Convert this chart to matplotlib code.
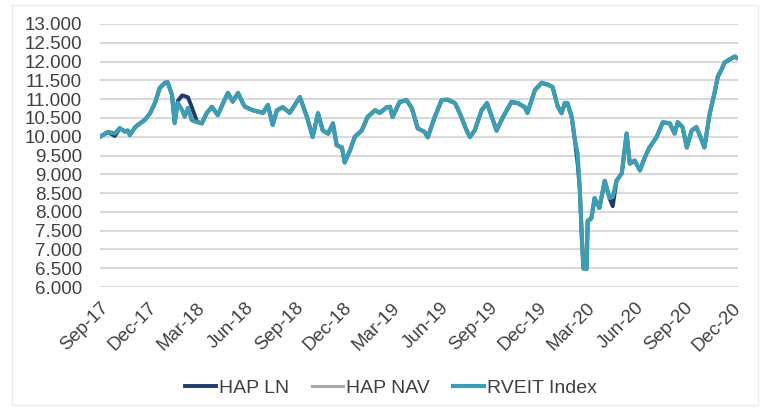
import numpy as np
import pandas as pd
import matplotlib
matplotlib.use("Agg")
import matplotlib.pyplot as plt
import matplotlib.dates as mdates
from matplotlib.ticker import FuncFormatter, MultipleLocator
from matplotlib.patches import Rectangle

plt.rcParams['font.family'] = ['Liberation Sans', 'DejaVu Sans']

# values
dates = ["2017-09-01", "2017-09-16", "2017-09-29", "2017-10-08", "2017-10-18", "2017-10-23", "2017-10-27",
         "2017-11-06", "2017-11-15", "2017-11-24", "2017-12-04", "2017-12-13", "2017-12-22",
         "2018-01-01", "2018-01-06", "2018-01-14", "2018-01-19", "2018-01-25", "2018-02-02", "2018-02-07",
         "2018-02-13", "2018-02-20", "2018-03-02", "2018-03-11", "2018-03-20", "2018-03-30", "2018-04-10",
         "2018-04-20", "2018-04-29", "2018-05-08", "2018-05-18", "2018-05-27", "2018-05-31", "2018-06-15",
         "2018-07-04", "2018-07-13", "2018-07-22", "2018-07-30", "2018-08-10", "2018-08-23", "2018-09-11",
         "2018-09-24", "2018-10-05", "2018-10-15", "2018-10-24", "2018-11-03", "2018-11-12", "2018-11-19",
         "2018-11-29", "2018-12-04", "2018-12-14", "2018-12-23",
         "2019-01-05", "2019-01-16", "2019-01-30", "2019-02-08", "2019-02-21", "2019-02-27", "2019-03-04",
         "2019-03-17", "2019-03-30", "2019-04-09", "2019-04-20", "2019-05-03", "2019-05-09", "2019-05-22",
         "2019-06-04", "2019-06-15", "2019-06-29", "2019-07-08", "2019-07-21", "2019-07-27", "2019-08-05",
         "2019-08-18", "2019-08-28", "2019-09-06", "2019-09-15", "2019-09-27", "2019-10-13", "2019-10-25",
         "2019-11-07", "2019-11-12", "2019-11-26", "2019-12-09", "2019-12-20", "2019-12-29",
         "2020-01-08", "2020-01-15", "2020-01-21", "2020-01-26", "2020-02-03", "2020-02-09", "2020-02-14",
         "2020-02-18", "2020-02-22", "2020-02-25", "2020-03-02", "2020-03-04", "2020-03-11", "2020-03-17",
         "2020-03-26", "2020-04-05", "2020-04-14", "2020-04-20", "2020-04-27", "2020-05-07", "2020-05-16",
         "2020-05-22", "2020-05-31", "2020-06-10", "2020-06-19", "2020-06-28", "2020-07-11", "2020-07-23",
         "2020-08-05", "2020-08-14", "2020-08-20", "2020-08-29", "2020-09-06", "2020-09-15", "2020-09-24",
         "2020-10-04", "2020-10-09", "2020-10-19", "2020-10-28", "2020-11-03", "2020-11-10", "2020-11-16",
         "2020-11-25", "2020-12-05", "2020-12-08"]

rveit = [10000, 10130, 10090, 10230, 10130, 10170, 10040, 10260, 10360, 10440, 10630, 10900, 11300,
         11440, 11440, 11120, 10360, 10900, 10710, 10530, 10770, 10440, 10390, 10360, 10630, 10790,
         10580, 10900, 11170, 10930, 11170, 10900, 10790, 10710, 10630, 10850, 10310, 10710, 10790,
         10630, 11060, 10530, 9990, 10630, 10170, 10090, 10360, 9770, 9720, 9310, 9640, 9990,
         10170, 10530, 10710, 10630, 10790, 10790, 10530, 10930, 10980, 10770, 10230, 10120, 9990,
         10530, 10980, 10980, 10900, 10630, 10170, 9990, 10170, 10710, 10900, 10530, 10170, 10530,
         10930, 10900, 10790, 10630, 11250, 11440, 11380, 11330,
         10790, 10630, 10900, 10900, 10530, 9910, 9560, 8650, 7300, 6490, 6490, 7760, 7840, 8370,
         8110, 8830, 8370, 8400, 8830, 9020, 10090, 9290, 9370, 9100, 9450, 9720, 9990, 10390,
         10360, 10090, 10390, 10260, 9720, 10170, 10260, 9910, 9720, 10630, 11170, 11600, 11790,
         11980, 12060, 12140, 12110]

hap_ln = [10000, 10120, 10020, 10220, 10140, 10160, 10050, 10250, 10350, 10450, 10620, 10890, 11290,
          11430, 11450, 11110, 10380, 10950, 11100, 11080, 11050, 10800, 10400, 10350, 10620, 10800,
          10570, 10890, 11160, 10940, 11160, 10890, 10800, 10700, 10640, 10840, 10320, 10700, 10780,
          10640, 11050, 10540, 10000, 10620, 10160, 10080, 10350, 9780, 9700, 9320, 9630, 10000,
          10160, 10520, 10700, 10640, 10780, 10800, 10520, 10920, 10970, 10760, 10220, 10130, 9980,
          10520, 10970, 10990, 10890, 10620, 10160, 10000, 10160, 10700, 10890, 10540, 10160, 10520,
          10920, 10890, 10780, 10640, 11240, 11430, 11390, 11320,
          10800, 10620, 10890, 10890, 10520, 9900, 9300, 8640, 7310, 6500, 6480, 7750, 7830, 8360,
          8100, 8820, 8360, 8150, 8820, 9030, 10080, 9280, 9360, 9110, 9440, 9710, 9980, 10380,
          10350, 10080, 10380, 10250, 9710, 10160, 10250, 9900, 9710, 10620, 11160, 11590, 11780,
          11970, 12050, 12130, 12100]

hap_nav = [10000, 10110, 10080, 10210, 10120, 10160, 10030, 10250, 10340, 10430, 10620, 10880, 11280,
           11420, 11430, 11110, 10350, 10890, 10700, 10520, 10760, 10430, 10380, 10350, 10620, 10780,
           10570, 10880, 11160, 10920, 11160, 10890, 10780, 10700, 10620, 10840, 10300, 10700, 10780,
           10620, 11050, 10520, 9980, 10620, 10160, 10080, 10350, 9760, 9710, 9300, 9630, 9980,
           10160, 10520, 10700, 10620, 10780, 10780, 10520, 10920, 10970, 10760, 10220, 10110, 9980,
           10520, 10970, 10970, 10890, 10620, 10160, 9980, 10160, 10700, 10890, 10520, 10160, 10520,
           10920, 10890, 10780, 10620, 11240, 11430, 11370, 11320,
           10780, 10620, 10890, 10890, 10520, 9900, 9550, 8640, 7290, 6480, 6480, 7750, 7830, 8360,
           8100, 8820, 8360, 8390, 8820, 9010, 10080, 9280, 9360, 9090, 9440, 9710, 9980, 10380,
           10350, 10080, 10380, 10250, 9710, 10160, 10250, 9900, 9710, 10620, 11160, 11590, 11780,
           11970, 12050, 12130, 12100]

series = [("HAP LN", hap_ln, "#1f3b6e", 2.8),
          ("HAP NAV", hap_nav, "#a6a6a6", 2.2),
          ("RVEIT Index", rveit, "#3c9db3", 3.0)]

x = pd.to_datetime(dates)

fig = plt.figure(figsize=(7.68, 4.09), dpi=100)
ax = fig.add_axes([100 / 768, 1 - 287 / 409, 638 / 768, 263 / 409])

for name, vals, col, lw in series:
    ax.plot(x, vals, color=col, lw=lw, label=name, solid_joinstyle='round')

ax.set_ylim(6000, 13000)
ax.yaxis.set_major_locator(MultipleLocator(500))
ax.yaxis.set_major_formatter(FuncFormatter(lambda v, p: f"{v:,.0f}".replace(",", ".")))
ax.set_xlim(pd.Timestamp("2017-09-01"), pd.Timestamp("2020-12-11"))
ticks = pd.date_range("2017-09-01", "2020-12-01", freq="3MS")
ax.set_xticks(ticks)
ax.xaxis.set_major_formatter(mdates.DateFormatter("%b-%y"))

ax.grid(axis='y', color='#d9d9d9', lw=1.5)
ax.set_axisbelow(True)
for s in ax.spines.values():
    s.set_visible(False)
ax.tick_params(axis='y', length=0, pad=13, labelsize=13.5, labelcolor='#404040')
ax.tick_params(axis='x', length=0, pad=9, labelsize=13.5, labelcolor='#404040')
for lab in ax.get_xticklabels():
    lab.set_rotation(45)
    lab.set_ha('right')
    lab.set_rotation_mode('anchor')

fig.legend(loc='center', bbox_to_anchor=(0.509, 0.052), ncol=3, frameon=False,
           fontsize=14, handlelength=1.6, handletextpad=0.15, columnspacing=1.2,
           labelcolor='#404040')

fig.patches.append(Rectangle((12 / 768, 4 / 409), 746 / 768, 400 / 409, transform=fig.transFigure,
                             fill=False, edgecolor='#ececec', lw=1))

fig.savefig("out.png", dpi=100)
